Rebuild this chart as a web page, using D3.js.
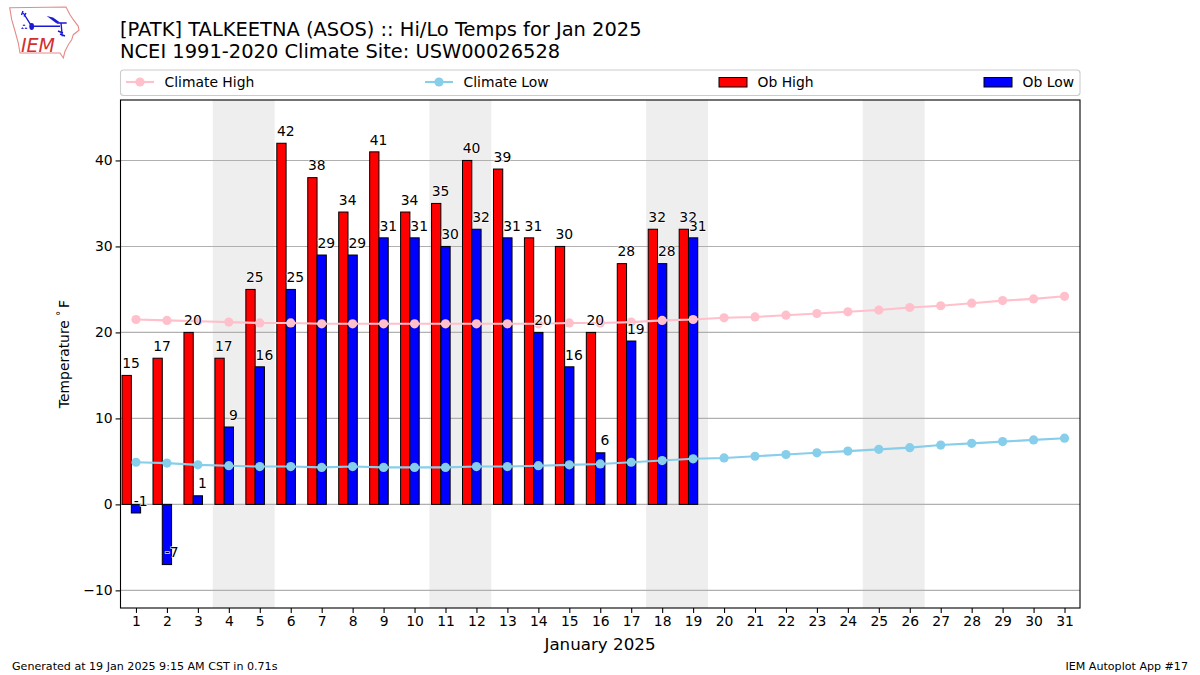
<!DOCTYPE html>
<html>
<head>
<meta charset="utf-8">
<script src="https://cdn.jsdelivr.net/npm/d3@7"></script>
<style>
  html, body { margin: 0; padding: 0; background: #fff; }
  text { font-family: "DejaVu Sans", sans-serif; fill: #000; }
</style>
</head>
<body>
<div id="chart"></div>
<script>
const days = d3.range(1, 32);
const obHigh = [15, 17, 20, 17, 25, 42, 38, 34, 41, 34, 35, 40, 39, 31, 30, 20, 28, 32, 32];
const obLow = [-1, -7, 1, 9, 16, 25, 29, 29, 31, 31, 30, 32, 31, 20, 16, 6, 19, 28, 31];
const climateHigh = [21.5, 21.4, 21.3, 21.2, 21.1, 21.1, 21.0, 21.0, 21.0, 21.0, 21.0, 21.0, 21.0, 21.0, 21.1, 21.1,
                     21.2, 21.4, 21.5, 21.7, 21.8, 22.0, 22.2, 22.4, 22.6, 22.9, 23.1, 23.4, 23.7, 23.9, 24.2];
const climateLow = [4.9, 4.8, 4.6, 4.5, 4.4, 4.4, 4.3, 4.4, 4.3, 4.3, 4.3, 4.4, 4.4, 4.5, 4.6, 4.7,
                    4.9, 5.1, 5.3, 5.4, 5.6, 5.8, 6.0, 6.2, 6.4, 6.6, 6.9, 7.1, 7.3, 7.5, 7.7];
const weekends = [[3.5, 5.5], [10.5, 12.5], [17.5, 19.5], [24.5, 26.5]];
const yTicks = [-10, 0, 10, 20, 30, 40];
const titleLines = ["[PATK] TALKEETNA (ASOS) :: Hi/Lo Temps for Jan 2025",
                    "NCEI 1991-2020 Climate Site: USW00026528"];

const margin = {top: 100, right: 120, bottom: 67, left: 120.5},
      width = 1200 - margin.left - margin.right,
      height = 675 - margin.top - margin.bottom;

const svg = d3.select("#chart")
              .append("svg")
              .attr("width", 1200)
              .attr("height", 675)
              .style("display", "block");

const plot = svg.append("g")
                .attr("transform", `translate(${margin.left}, ${margin.top})`);

const x = d3.scaleLinear().domain([0.5, 31.5]).range([0, width]);
const y = d3.scaleLinear().domain([-12.05, 47.03]).range([height, 0]);
const barW = x(1.3) - x(1);

// weekend bands
plot.selectAll(".weekend")
    .data(weekends)
    .join("rect")
    .attr("x", d => x(d[0]) - 0.6)
    .attr("width", d => x(d[1]) - x(d[0]))
    .attr("y", 0)
    .attr("height", height)
    .attr("fill", "#eeeeee");

// grid
plot.selectAll(".grid")
    .data(yTicks)
    .join("line")
    .attr("x1", 0)
    .attr("x2", width)
    .attr("y1", d => y(d))
    .attr("y2", d => y(d))
    .attr("stroke", "#b0b0b0")
    .attr("stroke-width", 1.1);

function bars(values, offset, color) {
  plot.append("g")
      .selectAll("rect")
      .data(values)
      .join("rect")
      .attr("x", (d, i) => x(days[i] + offset) - barW / 2)
      .attr("width", barW)
      .attr("y", d => y(Math.max(d, 0)))
      .attr("height", d => Math.abs(y(d) - y(0)))
      .attr("fill", color)
      .attr("stroke", "#000")
      .attr("stroke-width", 1);
}
bars(obHigh, -0.3, "#ff0000");
bars(obLow, 0, "#0000ff");

function climate(values, color) {
  const line = d3.line().x((d, i) => x(days[i])).y(d => y(d));
  plot.append("path")
      .attr("d", line(values))
      .attr("fill", "none")
      .attr("stroke", color)
      .attr("stroke-width", 2.1);
  plot.append("g")
      .selectAll("circle")
      .data(values)
      .join("circle")
      .attr("cx", (d, i) => x(days[i]))
      .attr("cy", d => y(d))
      .attr("r", 4.6)
      .attr("fill", color);
}
climate(climateHigh, "#ffc0cb");
climate(climateLow, "#87ceeb");

function labels(values, offset) {
  plot.append("g")
      .selectAll("text")
      .data(values)
      .join("text")
      .attr("x", (d, i) => x(days[i] + offset))
      .attr("y", d => y(d) - 7.3)
      .attr("text-anchor", "middle")
      .attr("font-size", 13.9)
      .attr("stroke", "#fff")
      .attr("stroke-width", 1.2)
      .attr("paint-order", "stroke")
      .text(d => d);
}
labels(obHigh, -0.16);
labels(obLow, 0.15);

// axes
const xAxis = plot.append("g")
                  .attr("transform", `translate(0, ${height})`)
                  .call(d3.axisBottom(x).tickValues(days).tickFormat(d3.format("d")).tickSize(4.9).tickSizeOuter(0));
const yAxis = plot.append("g")
                  .call(d3.axisLeft(y).tickValues(yTicks).tickFormat(d => d < 0 ? "\u2212" + (-d) : d).tickSize(4.9).tickSizeOuter(0));
xAxis.select(".domain").remove();
yAxis.select(".domain").remove();
[xAxis, yAxis].forEach(a => {
  a.selectAll("text").attr("font-size", 13.9).attr("font-family", '"DejaVu Sans"');
  a.selectAll("line").attr("stroke-width", 1.1);
});
xAxis.selectAll("text").attr("y", 8.5);

plot.append("rect")
    .attr("width", width)
    .attr("height", height)
    .attr("fill", "none")
    .attr("stroke", "#000")
    .attr("stroke-width", 1.1);

// axis titles
svg.append("text")
   .attr("x", 600)
   .attr("y", 650)
   .attr("text-anchor", "middle")
   .attr("font-size", 16.7)
   .text("January 2025");

const yTitle = svg.append("text")
                  .attr("transform", "translate(69, 354) rotate(-90)")
                  .attr("text-anchor", "middle")
                  .attr("font-size", 13.9);
yTitle.append("tspan").text("Temperature ");
yTitle.append("tspan").attr("font-size", 9.7).attr("dy", -5).attr("fill", "#000").text("\u00b0");
yTitle.append("tspan").attr("dy", 5).attr("dx", 3).text("F");

// title
svg.selectAll(".title")
   .data(titleLines)
   .join("text")
   .attr("x", 120)
   .attr("y", (d, i) => 36 + i * 22)
   .attr("font-size", 19.44)
   .text(d => d);

// legend
const legend = svg.append("g");
legend.append("rect")
      .attr("x", 120.5)
      .attr("y", 70)
      .attr("width", 959.5)
      .attr("height", 25.5)
      .attr("rx", 3)
      .attr("fill", "#fff")
      .attr("stroke", "#cccccc")
      .attr("stroke-width", 1.1);

const legendItems = [
  {name: "Climate High", kind: "line", color: "#ffc0cb", x0: 126},
  {name: "Climate Low", kind: "line", color: "#87ceeb", x0: 425},
  {name: "Ob High", kind: "bar", color: "#ff0000", x0: 719},
  {name: "Ob Low", kind: "bar", color: "#0000ff", x0: 984}
];
legendItems.forEach(item => {
  const g = legend.append("g").attr("transform", `translate(${item.x0}, 82)`);
  if (item.kind === "line") {
    g.append("line").attr("x1", 0).attr("x2", 28).attr("stroke", item.color).attr("stroke-width", 2.1);
    g.append("circle").attr("cx", 14).attr("r", 4.6).attr("fill", item.color);
  } else {
    g.append("rect").attr("y", -4.5).attr("width", 28).attr("height", 9.5)
     .attr("fill", item.color).attr("stroke", "#000").attr("stroke-width", 1);
  }
  g.append("text").attr("x", 38.5).attr("y", 4.5).attr("font-size", 13.9).text(item.name);
});

// footer
svg.append("text").attr("x", 12).attr("y", 670).attr("font-size", 11.1)
   .text("Generated at 19 Jan 2025 9:15 AM CST in 0.71s");
svg.append("text").attr("x", 1188).attr("y", 670).attr("text-anchor", "end").attr("font-size", 11.1)
   .text("IEM Autoplot App #17");

// logo
const logo = svg.append("g");
logo.append("path")
    .attr("d", "M9.7 7.7 L66 7 L70 14.7 L73.3 19.7 L78.3 26.3 L79 30.3 L73.3 34.7 L71.7 39.7 L68.3 44.7 L65 51.3 L63.3 58 L60 53 L20 53 L18.3 43 L15 31 L11.7 19.7 Z")
    .attr("fill", "#fff")
    .attr("stroke", "#e58a8a")
    .attr("stroke-width", 1.1);
logo.append("path")
    .attr("d", "M31.7 26.3 L60 26.3 M31.7 26.3 L23.3 13 M23 11 L21.5 15 M26 13 L24 16.5 M56.7 23 L66.7 23 M61 23 L62.3 36.3 M58 31 L63 33 M60 34 L65 36")
    .attr("fill", "none")
    .attr("stroke", "#1a1ad6")
    .attr("stroke-width", 1.4);
logo.append("path").attr("d", "M46.7 16 L53 17.5 L60 22.5 L56 23 Z").attr("fill", "#1a1ad6");
logo.append("ellipse").attr("cx", 31.7).attr("cy", 26.5).attr("rx", 2.4).attr("ry", 3.4).attr("fill", "#1a1ad6");
logo.append("path").attr("d", "M24 24 L25.5 26 L22.5 26 Z M22.5 27 L24 29 L21 29 Z M26 27 L27.5 29 L24.5 29 Z").attr("fill", "#3a3ae0");
logo.append("text")
    .attr("x", 21)
    .attr("y", 52)
    .attr("font-family", '"Liberation Serif", serif')
    .attr("font-style", "italic")
    .attr("font-size", 20)
    .attr("textLength", 34)
    .attr("lengthAdjust", "spacingAndGlyphs")
    .style("fill", "#d32f2f")
    .text("IEM");
</script>
</body>
</html>
